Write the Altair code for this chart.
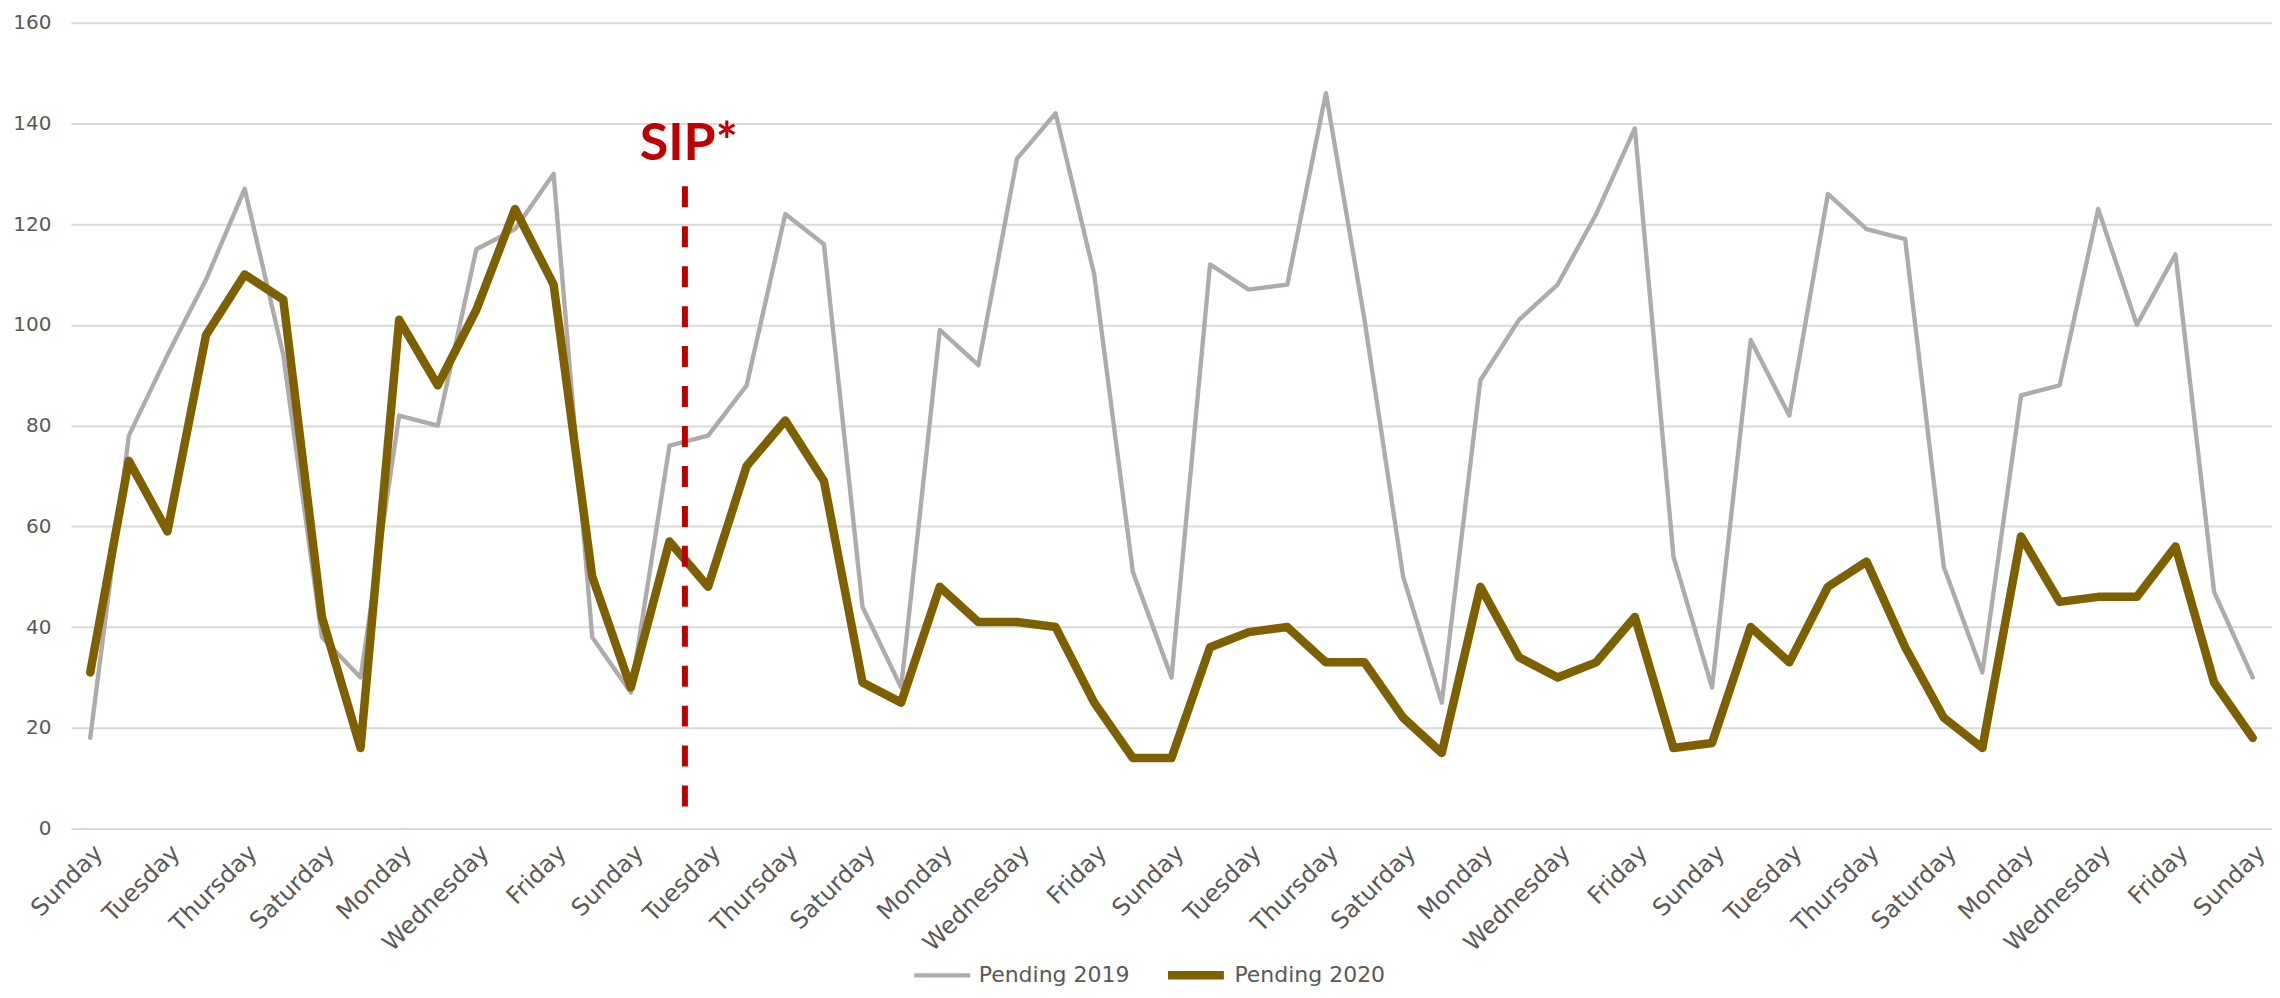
import json
import altair as alt
import pandas as pd

# ---------------- data ----------------
x_labels = ["Sunday", "Tuesday", "Thursday", "Saturday", "Monday", "Wednesday", "Friday",
            "Sunday", "Tuesday", "Thursday", "Saturday", "Monday", "Wednesday", "Friday",
            "Sunday", "Tuesday", "Thursday", "Saturday", "Monday", "Wednesday", "Friday",
            "Sunday", "Tuesday", "Thursday", "Saturday", "Monday", "Wednesday", "Friday",
            "Sunday"]

series_names = ["Pending 2019", "Pending 2020"]

pending_2019 = [18, 78, 94, 109, 127, 94, 38, 30, 82, 80, 115, 119, 130, 38, 27,
                76, 78, 88, 122, 116, 44, 28, 99, 92, 133, 142, 110, 51, 30,
                112, 107, 108, 146, 101, 50, 25, 89, 101, 108, 122, 139, 54, 28,
                97, 82, 126, 119, 117, 52, 31, 86, 88, 123, 100, 114, 47, 30]

pending_2020 = [31, 73, 59, 98, 110, 105, 42, 16, 101, 88, 103, 123, 108, 50, 28,
                57, 48, 72, 81, 69, 29, 25, 48, 41, 41, 40, 25, 14, 14,
                36, 39, 40, 33, 33, 22, 15, 48, 34, 30, 33, 42, 16, 17,
                40, 33, 48, 53, 36, 22, 16, 58, 45, 46, 46, 56, 29, 18]

y_ticks = [0, 20, 40, 60, 80, 100, 120, 140, 160]

sip_label = ["SIP*"]
sip_day = [15.4]
sip_text_day = [15.5]
sip_text_value = [132.7]
sip_rule_top = [127.5]
sip_rule_bottom = [4]

# ---------------- tables ----------------
n = len(pending_2019)
rows = []
for name, vals in zip(series_names, [pending_2019, pending_2020]):
    for i, v in enumerate(vals):
        rows.append({"day": i, "value": v, "series": name})
df = pd.DataFrame(rows)

rule_df = pd.DataFrame({"day": sip_day, "value": sip_rule_top, "value2": sip_rule_bottom})
text_df = pd.DataFrame({"day": sip_text_day, "value": sip_text_value, "label": sip_label})

FONT = "DejaVu Sans"
LABEL_COLOR = "#595959"

x_scale = alt.Scale(domain=[-0.5, n - 0.5], nice=False, zero=False)
y_scale = alt.Scale(domain=[0, 160], nice=False, zero=True)

label_expr = json.dumps(x_labels) + "[round(datum.value / 2)]"

x_axis = alt.Axis(values=list(range(0, n, 2)), labelExpr=label_expr, labelAngle=-45,
                  labelAlign="right", labelBaseline="top",
                  grid=False, domain=False, ticks=False, labelPadding=12, title=None,
                  labelFont=FONT, labelFontSize=24, labelColor=LABEL_COLOR,
                  labelOverlap=False, labelBound=False, labelFlush=False)
y_axis = alt.Axis(values=y_ticks, grid=True, gridColor="#D9D9D9", gridWidth=2,
                  domain=False, ticks=False, labelPadding=20, title=None,
                  labelFont=FONT, labelFontSize=20, labelColor=LABEL_COLOR)


def make_legend():
    return alt.Legend(title=None, orient="none", legendX=842, legendY=942,
                      direction="horizontal", symbolType="stroke", symbolSize=3136,
                      clipHeight=24, labelFont=FONT, labelFontSize=22,
                      labelColor=LABEL_COLOR, labelOffset=6, columnPadding=34,
                      padding=0)


lines = alt.Chart(df).mark_line(strokeCap="round", strokeJoin="round").encode(
    x=alt.X("day:Q", scale=x_scale, axis=x_axis),
    y=alt.Y("value:Q", scale=y_scale, axis=y_axis),
    color=alt.Color("series:N",
                    scale=alt.Scale(domain=series_names, range=["#AFABAB", "#7F6000"]),
                    legend=make_legend()),
    strokeWidth=alt.StrokeWidth("series:N",
                                scale=alt.Scale(domain=series_names, range=[4.4, 8.5]),
                                legend=make_legend()),
)

rule = alt.Chart(rule_df).mark_rule(color="#C00000", strokeWidth=6, strokeDash=[21, 19]).encode(
    x=alt.X("day:Q"),
    y=alt.Y("value:Q"),
    y2="value2:Q",
)

text = alt.Chart(text_df).mark_text(font="Lato", fontWeight="bold", fontSize=52,
                                    color="#C00000", align="center",
                                    baseline="alphabetic").encode(
    x=alt.X("day:Q"),
    y=alt.Y("value:Q"),
    text="label:N",
)

chart = alt.layer(lines, rule, text).properties(
    width=2204,
    height=807,
    autosize=alt.AutoSizeParams(type="none"),
    padding={"left": 63, "top": 14, "right": 0, "bottom": 160},
    background="white",
).configure_view(stroke=None)

chart.save("out.html", embed_options={"renderer": "svg", "actions": False})
